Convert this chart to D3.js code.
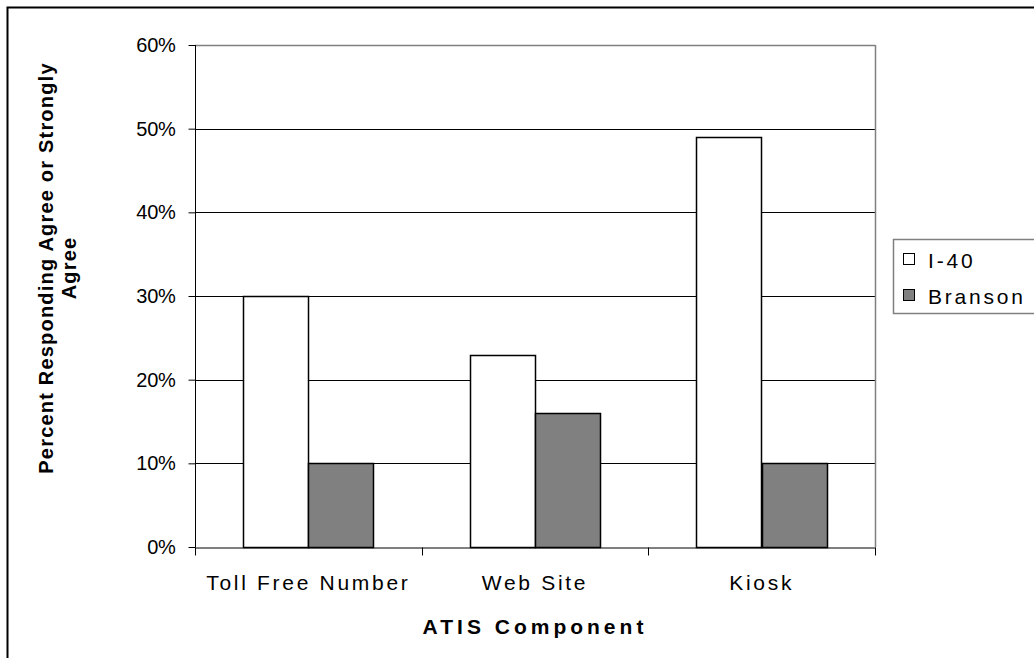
<!DOCTYPE html>
<html><head><meta charset="utf-8">
<script src="https://cdn.jsdelivr.net/npm/d3@7"></script>
<style>body{margin:0;background:#fff}svg{display:block}text{font-family:"Liberation Sans",Arial,sans-serif}</style>
</head><body>
<svg id="c" width="1034" height="658"></svg>
<script>
const categories = ["Toll Free Number", "Web Site", "Kiosk"];
const seriesNames = ["I-40", "Branson"];
const i40 = [0.30, 0.23, 0.49];
const branson = [0.10, 0.16, 0.10];
const yTicks = [0, 0.1, 0.2, 0.3, 0.4, 0.5, 0.6];
const colors = ["#ffffff", "#808080"];

const svg = d3.select("#c");
// outer border
svg.append("rect").attr("x",7.5).attr("y",7.5).attr("width",1100).attr("height",700)
  .attr("fill","none").attr("stroke","#000").attr("stroke-width",2);

const L=195, R=875, T=45, B=547;
const x = d3.scaleBand().domain(categories).range([L,R]).paddingInner(0).paddingOuter(0);
const xs = d3.scaleBand().domain(seriesNames).range([0,x.bandwidth()]).paddingInner(0).paddingOuter(0.735);
const y = d3.scaleLinear().domain([0,0.6]).range([B,T]);

// gridlines
svg.append("g").selectAll("line").data(yTicks.slice(1)).join("line")
  .attr("x1",L).attr("x2",R).attr("y1",d=>Math.round(y(d))+0.5).attr("y2",d=>Math.round(y(d))+0.5)
  .attr("stroke",d=>d===0.6?"#808080":"#000").attr("stroke-width",d=>d===0.6?1.5:1);
// right border
svg.append("line").attr("x1",R+0.5).attr("x2",R+0.5).attr("y1",T).attr("y2",B).attr("stroke","#808080").attr("stroke-width",1.5);

// bars
const data = categories.map((c,i)=>({c, vals:[i40[i], branson[i]]}));
const g = svg.append("g");
data.forEach(d=>{
  d.vals.forEach((v,j)=>{
    g.append("rect")
      .attr("x", Math.round(x(d.c)+xs(seriesNames[j]))+0.5)
      .attr("y", Math.round(y(v))+0.5)
      .attr("width", Math.round(xs.bandwidth()))
      .attr("height", Math.round(y(0))-Math.round(y(v)))
      .attr("fill", colors[j]).attr("stroke","#000").attr("stroke-width",1.5);
  });
});

// y axis
const yAxis = d3.axisLeft(y).tickValues(yTicks).tickFormat(d3.format(".0%")).tickSize(7).tickPadding(13);
const ya = svg.append("g").attr("transform",`translate(${L+0.5},0)`).call(yAxis);
ya.select(".domain").attr("d",`M0,${T}V${B+0.5}`).attr("stroke","#000");
ya.selectAll(".tick line").attr("stroke","#000");
ya.selectAll(".tick text").attr("font-size",20).attr("fill","#000").attr("font-family","Liberation Sans, Arial, sans-serif").attr("letter-spacing",-0.3);

// x axis
const xAxis = d3.axisBottom(x).tickSize(8).tickSizeOuter(0).tickFormat("");
const xa = svg.append("g").attr("transform",`translate(0,${B+0.5})`).call(xAxis);
xa.select(".domain").attr("stroke","#000");
xa.selectAll(".tick").remove();
const bounds = [L, ...categories.map(c=>x(c)+x.bandwidth())];
xa.selectAll("line.b").data(bounds).join("line").attr("class","b")
  .attr("x1",d=>Math.round(d)+0.5).attr("x2",d=>Math.round(d)+0.5).attr("y1",0).attr("y2",8).attr("stroke","#000");
svg.append("g").selectAll("text").data(categories).join("text")
  .attr("x",d=>x(d)+x.bandwidth()/2).attr("y",590).attr("text-anchor","middle")
  .attr("font-size",21).attr("letter-spacing",2.7).text(d=>d);

// axis titles
svg.append("text").attr("x",535).attr("y",634).attr("text-anchor","middle")
  .attr("font-size",21).attr("font-weight","bold").attr("letter-spacing",4).text("ATIS Component");
const yt = svg.append("text").attr("transform",`translate(0,268) rotate(-90)`)
  .attr("text-anchor","middle").attr("font-size",20).attr("font-weight","bold").attr("letter-spacing",1.2);
yt.append("tspan").attr("x",0).attr("y",53).text("Percent Responding Agree or Strongly");
yt.append("tspan").attr("x",0).attr("y",76).text("Agree");

// legend
const lg = svg.append("g");
lg.append("rect").attr("x",893.5).attr("y",239.5).attr("width",200).attr("height",74)
  .attr("fill","#fff").attr("stroke","#808080").attr("stroke-width",1.5);
seriesNames.forEach((s,i)=>{
  const cy = 259 + i*36;
  lg.append("rect").attr("x",903.5).attr("y",cy-5.5).attr("width",11).attr("height",11)
    .attr("fill",colors[i]).attr("stroke","#000").attr("stroke-width",1);
  lg.append("text").attr("x",928).attr("y",cy+9).attr("font-size",21).attr("letter-spacing",2.8).text(s);
});
</script>
</body></html>
